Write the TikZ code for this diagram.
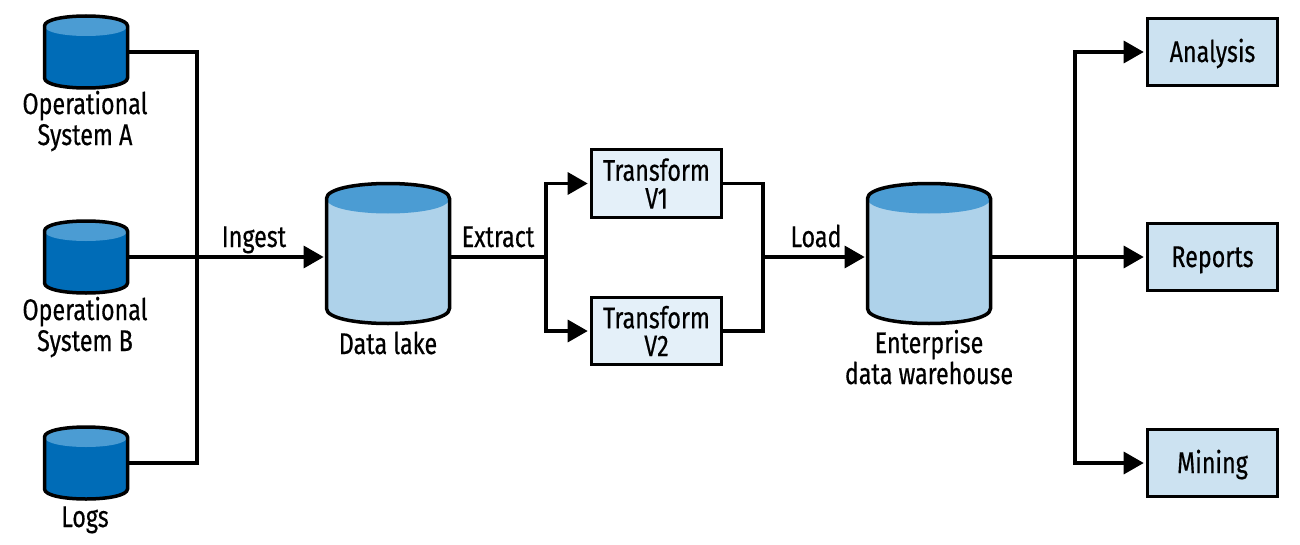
\documentclass[tikz,border=0pt]{standalone}
\usepackage{fontspec}
\setmainfont[FakeStretch=0.78, FakeBold=0.45]{Fira Sans}
\usetikzlibrary{arrows.meta}

\definecolor{srcbody}{HTML}{006CB7}
\definecolor{srclid}{HTML}{4B9CD3}
\definecolor{storebody}{HTML}{AED2EA}
\definecolor{stepfill}{HTML}{E4F0F9}
\definecolor{usefill}{HTML}{CCE2F1}

\tikzset{
  word/.style = {inner sep = 0pt, align = center, font = \fontsize{17}{17.6}\selectfont},
  stepbox/.style = {draw, line width = 0.052cm, inner sep = 0pt, minimum width = 2.6cm,
    minimum height = 1.35cm, align = center, font = \fontsize{17}{15.9}\selectfont},
  flow/.style = {line width = 0.064cm},
  flowtip/.style = {flow, -{Triangle[length = 0.4cm, width = 0.44cm]}, shorten > = 0.05cm}
}

% name, x, y, half width, half height, lid height, body colour
\newcommand{\dbcyl}[7]{
  \begin{scope}[shift = {(#2, #3)}]
    \node [inner sep = 0pt, minimum width = {2*#4*0.02cm}, minimum height = {2*#5*0.02cm}] (#1) at (0, 0) {};
    \path [fill = #7] (-#4, -#5+#6) .. controls (-#4, -#5-#6/3) and (#4, -#5-#6/3) .. (#4, -#5+#6)
      -- (#4, #5-#6) .. controls (#4, #5+#6/3) and (-#4, #5+#6/3) .. (-#4, #5-#6) -- cycle;
    \fill [srclid] (-#4, -#5+#6) .. controls (-#4, -#5-#6/3) and (#4, -#5-#6/3) .. (#4, -#5+#6)
      .. controls (#4, -#5+7*#6/3) and (-#4, -#5+7*#6/3) .. (-#4, -#5+#6) -- cycle;
    \draw [line width = 0.07cm] (-#4, -#5+#6) .. controls (-#4, -#5-#6/3) and (#4, -#5-#6/3) .. (#4, -#5+#6)
      -- (#4, #5-#6) .. controls (#4, #5+#6/3) and (-#4, #5+#6/3) .. (-#4, #5-#6) -- cycle;
  \end{scope}
}

\begin{document}
\begin{tikzpicture}[x = 0.02cm, y = -0.02cm]
  \useasboundingbox (0, 0) rectangle (1300, 544);

  \dbcyl{osa}{86}{52}{41.5}{36}{10}{srcbody}
  \dbcyl{osb}{86}{257}{41.5}{36}{10}{srcbody}
  \dbcyl{logs}{86}{463}{41.5}{36}{10}{srcbody}
  \dbcyl{lake}{388}{253.5}{61.5}{70}{15}{storebody}
  \dbcyl{edw}{929}{253.5}{61.5}{70}{15}{storebody}

  \node [word, anchor = base] (osalabel) at (85, 145) {Operational\\System A};
  \node [word, anchor = base] (osblabel) at (85, 351) {Operational\\System B};
  \node [word, anchor = base] (logslabel) at (85, 527) {Logs};
  \node [word, anchor = base] (lakelabel) at (388, 354) {Data lake};
  \node [word, anchor = base] (edwlabel) at (929, 384) {Enterprise\\data warehouse};

  \node [stepbox, fill = stepfill] (tfa) at (656.5, 183.5) {Transform\\V1};
  \node [stepbox, fill = stepfill] (tfb) at (656.5, 331) {Transform\\V2};
  \foreach \name/\ypos/\word in {analysis/52/Analysis, reports/257/Reports, mining/463/Mining}{
    \node [stepbox, fill = usefill, text height = 15pt] (\name) at (1212.5, \ypos) {\word};
  }

  \coordinate (ingestbus) at (197, 257);
  \coordinate (extractfork) at (546, 257);
  \coordinate (loadbus) at (763, 257);
  \coordinate (servefork) at (1075, 257);

  \draw [flow] (osa.east) -| (ingestbus);
  \draw [flow] (logs.east) -| (ingestbus);
  \draw [flowtip] (osb.east) -- (ingestbus -| lake.west);
  \node [word, anchor = base] (ingestlabel) at (254, 247) {Ingest};

  \draw [flow] (ingestbus -| lake.east) -- (extractfork);
  \draw [flowtip] (extractfork) |- (tfa.west);
  \draw [flowtip] (extractfork) |- (tfb.west);
  \node [word, anchor = base] (extractlabel) at (498, 247) {Extract};

  \draw [flow] (tfa.east) -| (loadbus);
  \draw [flow] (tfb.east) -| (loadbus);
  \draw [flowtip] (loadbus) -- (loadbus -| edw.west);
  \node [word, anchor = base] (loadlabel) at (816, 247) {Load};

  \draw [flowtip] (loadbus -| edw.east) -- (reports.west);
  \draw [flowtip] (servefork) |- (analysis.west);
  \draw [flowtip] (servefork) |- (mining.west);
\end{tikzpicture}
\end{document}
